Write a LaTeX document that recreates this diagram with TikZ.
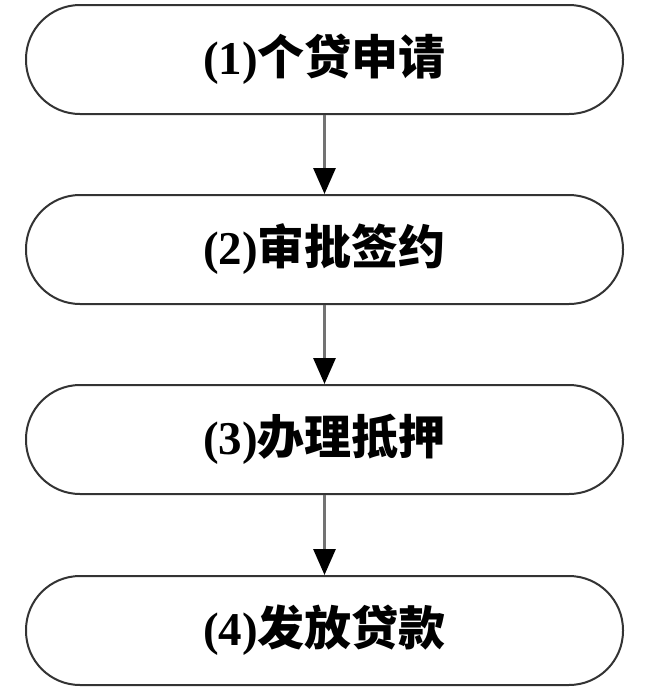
\documentclass[tikz,border=0pt]{standalone}
\usepackage{fontspec}
\setmainfont{Liberation Serif}
\newfontfamily\cjk{Noto Sans CJK SC}
\usetikzlibrary{arrows.meta}
\tikzset{
  stepbox/.style={draw=black!80, line width=2pt, rounded corners=54pt,
    minimum width=597pt, minimum height=109pt, inner sep=0pt, fill=white,
    font=\fontsize{47pt}{50pt}\selectfont\bfseries},
  flow/.style={draw=black!55, line width=3pt,
    -{Triangle[width=22pt,length=26pt,color=black]}}
}
\newcommand{\lbl}[2]{(#1)\cjk\bfseries #2}
\begin{document}
\begin{tikzpicture}[x=1pt,y=-1pt]
\useasboundingbox (0,0) rectangle (659,694);
\node[stepbox] (s1) at (324.5,59.5) {\lbl{1}{个贷申请}};
\node[stepbox] (s2) at (324.5,249.5) {\lbl{2}{审批签约}};
\node[stepbox] (s3) at (324.5,439.5) {\lbl{3}{办理抵押}};
\node[stepbox] (s4) at (324.5,630.5) {\lbl{4}{发放贷款}};
\draw[flow] (s1) -- (s2);
\draw[flow] (s2) -- (s3);
\draw[flow] (s3) -- (s4);
\end{tikzpicture}
\end{document}
